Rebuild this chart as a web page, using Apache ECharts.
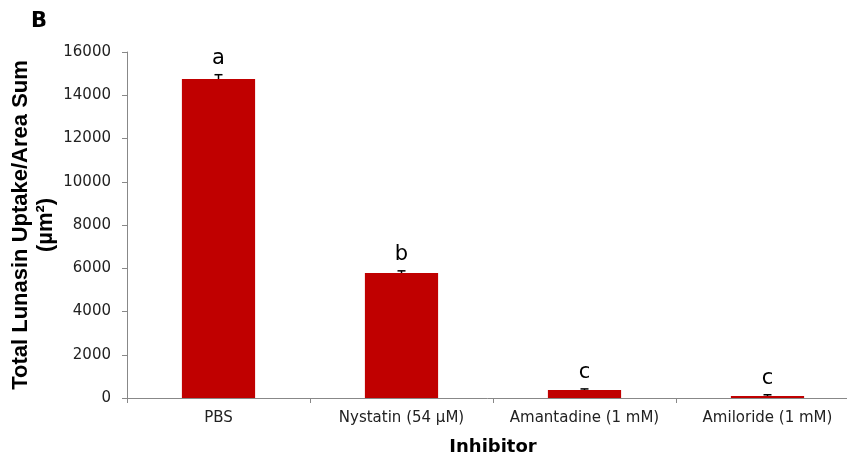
<!DOCTYPE html>
<html>
<head>
<meta charset="utf-8">
<script src="https://cdn.jsdelivr.net/npm/echarts@6/dist/echarts.min.js"></script>
<style>html,body{margin:0;padding:0;background:#fff;}#chart{width:847px;height:460px;}</style>
</head>
<body>
<div id="chart"></div>
<script>
const categories = ['PBS', 'Nystatin (54 µM)', 'Amantadine (1 mM)', 'Amiloride (1 mM)'];
const means = [14750, 5780, 370, 90];
const errors = [200, 100, 50, 60];
const letters = ['a', 'b', 'c', 'c'];
const yTicks = { min: 0, max: 16000, interval: 2000 };

const chart = echarts.init(document.getElementById('chart'), null, { renderer: 'canvas' });
const font = 'DejaVu Sans, Verdana, sans-serif';
chart.setOption({
  animation: false,
  backgroundColor: '#fff',
  grid: { left: 127, right: -12, top: 52, bottom: 62, containLabel: false, outerBoundsMode: 'none' },
  graphic: [{
    type: 'text', left: 31, top: 11,
    style: { text: 'B', font: 'bold 21px ' + font, fill: '#000' }
  }],
  xAxis: {
    type: 'category', data: categories,
    name: 'Inhibitor', nameLocation: 'middle', nameGap: 40,
    nameTextStyle: { fontFamily: font, fontWeight: 'bold', fontSize: 18, color: '#000' },
    axisLine: { lineStyle: { color: '#888', width: 1 } },
    axisTick: { show: true, length: 5, lineStyle: { color: '#888' } },
    axisLabel: { fontFamily: font, fontSize: 15, color: '#222', margin: 13, interval: 0 }
  },
  yAxis: {
    type: 'value', min: yTicks.min, max: yTicks.max, interval: yTicks.interval,
    name: 'Total Lunasin Uptake/Area Sum\n(µm²)', nameLocation: 'middle', nameGap: 69, nameRotate: 90,
    nameMoveOverlap: false,
    nameTextStyle: { fontFamily: 'Liberation Sans, Arial, sans-serif', fontWeight: 'bold', fontSize: 22, color: '#000', lineHeight: 25 },
    splitLine: { show: false },
    axisLine: { show: true, lineStyle: { color: '#888', width: 1 } },
    axisTick: { show: true, length: 5, lineStyle: { color: '#888' } },
    axisLabel: { fontFamily: font, fontSize: 15, color: '#222', margin: 16, formatter: function (v) { return String(v); } }
  },
  series: [{
    type: 'bar', data: means, barWidth: '40%',
    itemStyle: { color: '#C00000' }
  }, {
    type: 'custom',
    data: means.map((m, i) => [i, m, errors[i]]),
    renderItem: function (params, api) {
      const i = api.value(0);
      const m = api.value(1);
      const e = api.value(2);
      const base = api.coord([i, m]);
      const top = api.coord([i, m + e]);
      return {
        type: 'group',
        children: [
          { type: 'line', shape: { x1: top[0], y1: base[1], x2: top[0], y2: top[1] }, style: { stroke: '#000', lineWidth: 1.5 } },
          { type: 'line', shape: { x1: top[0] - 4, y1: top[1], x2: top[0] + 4, y2: top[1] }, style: { stroke: '#000', lineWidth: 1.5 } },
          { type: 'text', x: top[0], y: top[1] - 6, style: { text: letters[params.dataIndex], font: '21px ' + font, fill: '#000', textAlign: 'center', textVerticalAlign: 'bottom' } }
        ]
      };
    },
    z: 5
  }]
});
</script>
</body>
</html>
